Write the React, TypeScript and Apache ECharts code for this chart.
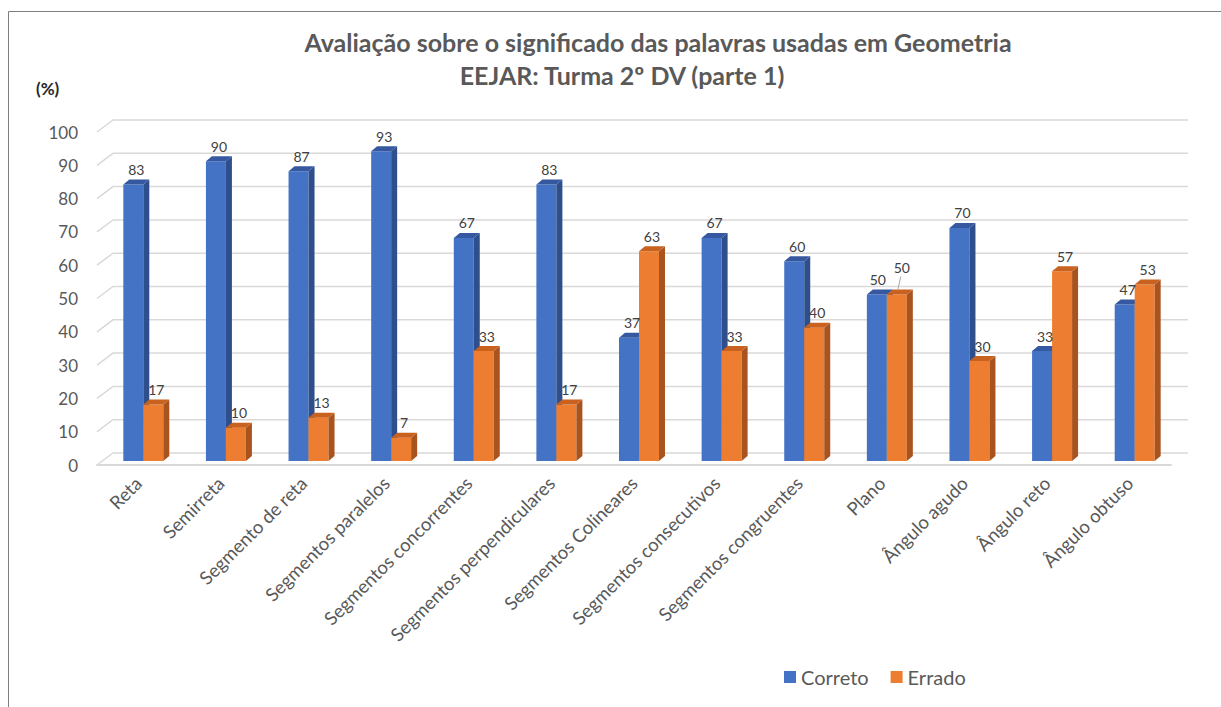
import React, { useEffect, useRef } from "react";
import * as echarts from "echarts";

const categories = [
  "Reta",
  "Semirreta",
  "Segmento de reta",
  "Segmentos paralelos",
  "Segmentos concorrentes",
  "Segmentos perpendiculares",
  "Segmentos Colineares",
  "Segmentos consecutivos",
  "Segmentos congruentes",
  "Plano",
  "Ângulo agudo",
  "Ângulo reto",
  "Ângulo obtuso",
];
const correto = [83, 90, 87, 93, 67, 83, 37, 67, 60, 50, 70, 33, 47];
const errado = [17, 10, 13, 7, 33, 17, 63, 33, 40, 50, 30, 57, 53];
const yTicks = [0, 10, 20, 30, 40, 50, 60, 70, 80, 90, 100];

const FONT = "Lato, 'Open Sans', sans-serif";
const TEXT = "#595959";

const palettes = [
  { front: "#4472C4", side: "#2F4F8C", top: "#3558A0" },
  { front: "#ED7D31", side: "#A9541E", top: "#C8621E" },
];

function makeBarRender(sideIdx: number, other: number[]) {
  return (params: any, api: any) => {
    const idx = api.value(0);
    const v = api.value(1);
    const base = api.coord([idx, 0]);
    const top = api.coord([idx, v]);
    const catW = api.size([1, 0])[0];
    const bw = catW * 0.242;
    const sx = 5, sy = -4; // bars sit a little into the floor depth
    const ddx = 6, ddy = -5; // bar depth
    const x0 = base[0] + sx + (sideIdx === 0 ? -bw : 0);
    const x1 = x0 + bw;
    const yb = base[1] + sy;
    const yt = top[1] + sy;
    const pal = palettes[sideIdx];
    let labelY = yt + ddy - 3;
    let labelX = (x0 + x1 + ddx) / 2;
    const equal = other[idx] === v;
    const children: any[] = [
      {
        type: "rect",
        shape: { x: x0, y: yt, width: bw, height: yb - yt },
        style: { fill: pal.front },
      },
      {
        type: "polygon",
        shape: {
          points: [
            [x1, yt],
            [x1 + ddx, yt + ddy],
            [x1 + ddx, yb + ddy],
            [x1, yb],
          ],
        },
        style: { fill: pal.side },
      },
      {
        type: "polygon",
        shape: {
          points: [
            [x0, yt],
            [x0 + ddx, yt + ddy],
            [x1 + ddx, yt + ddy],
            [x1, yt],
          ],
        },
        style: { fill: pal.top },
      },
    ];
    if (equal && sideIdx === 1) {
      children.push({
        type: "line",
        z2: 90,
        shape: { x1: labelX - 2, y1: yt + ddy, x2: labelX + 1, y2: yt + ddy - 13 },
        style: { stroke: "#a6a6a6", lineWidth: 1 },
      });
      labelY = yt + ddy - 15;
      labelX = labelX + 2;
    }
    if (equal && sideIdx === 0) {
      labelX = labelX - 2;
    }
    children.push({
      type: "text",
      z2: 100,
      style: {
        x: labelX,
        y: labelY,
        text: String(v),
        fill: "#404040",
        font: `14px ${FONT}`,
        align: "center",
        verticalAlign: "bottom",
      },
    });
    return { type: "group", children };
  };
}

export default function App() {
  const ref = useRef<HTMLDivElement>(null);
  useEffect(() => {
    if (!ref.current) return;
    const chart = echarts.init(ref.current, undefined, { renderer: "svg" });
    const option: any = {
      animation: false,
      backgroundColor: "#ffffff",
      color: ["#4472C4", "#ED7D31"],
      grid: { left: 97, right: 50, top: 132, bottom: 242, containLabel: false },
      xAxis: {
        type: "category",
        data: categories,
        axisLine: { show: true, lineStyle: { color: "#d9d9d9", width: 2 } },
        axisTick: { show: false },
        axisLabel: {
          rotate: 45,
          interval: 0,
          color: TEXT,
          fontSize: 18.5,
          fontFamily: FONT,
          margin: 15,
        },
      },
      yAxis: {
        type: "value",
        min: 0,
        max: 100,
        interval: 10,
        axisLine: { show: false },
        axisTick: { show: false },
        splitLine: { show: false },
        axisLabel: { color: TEXT, fontSize: 17, fontFamily: FONT, margin: 19 },
      },
      legend: {
        data: ["Correto", "Errado"],
        left: 779,
        top: 662,
        icon: "rect",
        itemWidth: 12,
        itemHeight: 12,
        itemGap: 22,
        textStyle: { color: TEXT, fontSize: 20, fontFamily: FONT },
      },
      graphic: [
        {
          type: "line",
          shape: { x1: 8.5, y1: 11.5, x2: 1221, y2: 11.5 },
          style: { stroke: "#7f7f7f", lineWidth: 1 },
        },
        {
          type: "line",
          shape: { x1: 8.5, y1: 11.5, x2: 8.5, y2: 707 },
          style: { stroke: "#7f7f7f", lineWidth: 1 },
        },
        {
          type: "text",
          x: 658,
          y: 29,
          style: {
            text: "Avaliação sobre o significado das palavras usadas em Geometria",
            fill: TEXT,
            font: `bold 25px ${FONT}`,
            align: "center",
          },
        },
        {
          type: "text",
          x: 622,
          y: 62,
          style: {
            text: "EEJAR: Turma 2º DV (parte 1)",
            fill: TEXT,
            font: `bold 25px ${FONT}`,
            align: "center",
          },
        },
        {
          type: "text",
          x: 36,
          y: 80,
          style: {
            text: "(%)",
            fill: "#262626",
            font: `bold 17px ${FONT}`,
          },
        },
      ],
      series: [
        {
          name: "grid-lines",
          type: "custom",
          silent: true,
          z: 1,
          data: yTicks.map((t) => [0, t]),
          renderItem: (params: any, api: any) => {
            const y = api.coord([0, api.value(1)])[1];
            const cs = params.coordSys;
            const gx = cs.x;
            const gw = cs.width;
            return {
              type: "polyline",
              shape: {
                points: [
                  [gx, y],
                  [gx + 16, y - 12],
                  [gx + gw + 17, y - 12],
                ],
              },
              style: { stroke: "#d9d9d9", lineWidth: 1.5, fill: "none" },
            };
          },
        },
        {
          name: "Correto",
          type: "custom",
          z: 2,
          itemStyle: { color: "#4472C4" },
          data: correto.map((v, i) => [i, v]),
          renderItem: makeBarRender(0, errado),
        },
        {
          name: "Errado",
          type: "custom",
          z: 2,
          itemStyle: { color: "#ED7D31" },
          data: errado.map((v, i) => [i, v]),
          renderItem: makeBarRender(1, correto),
        },
      ],
    };
    chart.setOption(option);
    return () => chart.dispose();
  }, []);
  return (
    <div
      ref={ref}
      style={{ position: "fixed", left: 0, top: 0, width: 1221, height: 707 }}
    />
  );
}
